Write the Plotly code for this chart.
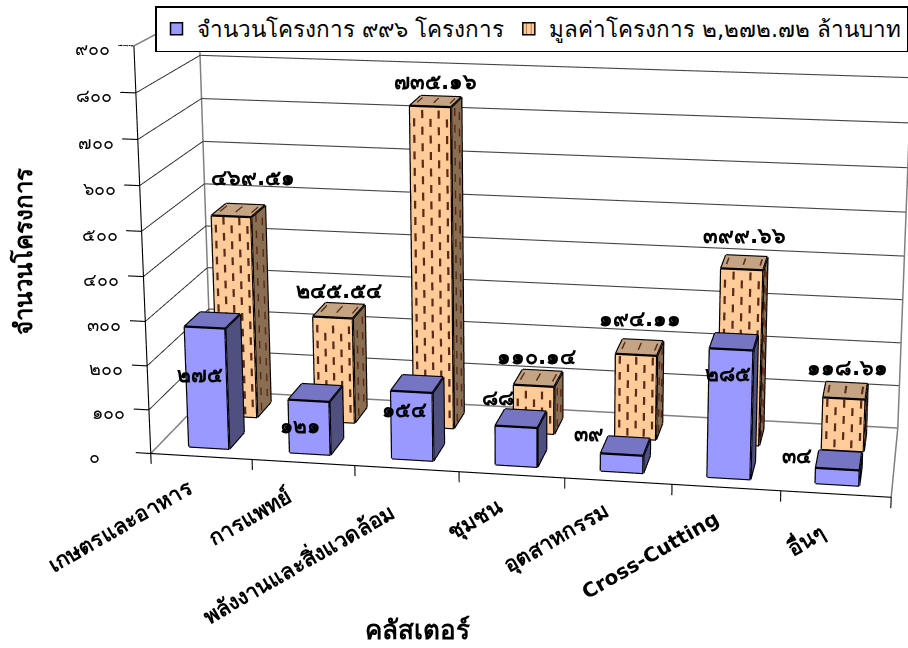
import numpy as np
import plotly.graph_objects as go

# chart content
categories = ["เกษตรและอาหาร", "การแพทย์", "พลังงานและสิ่งแวดล้อม", "ชุมชน", "อุตสาหกรรม", "Cross-Cutting", "อื่นๆ"]
project_counts = [275, 121, 154, 88, 39, 285, 34]
project_budgets = [469.51, 245.54, 735.16, 110.14, 194.11, 399.66, 118.61]
series_names = ["จำนวนโครงการ ๙๙๖ โครงการ", "มูลค่าโครงการ ๒,๒๗๒.๗๒ ล้านบาท"]
z_ticks = [0, 100, 200, 300, 400, 500, 600, 700, 800, 900]
axis_titles = ["จำนวนโครงการ", "คลัสเตอร์"]

THAI = str.maketrans("0123456789", "๐๑๒๓๔๕๖๗๘๙")
def thai(v):
    return str(v).translate(THAI)

# scene layout: categories run along x, the two series sit in rows along y
Z_LO, Z_HI = -30.0, 900.0
BLUE_Y = (0.13, 0.38)
ORANGE_Y = (0.62, 0.87)
BAR_X = (0.3, 0.7)

# camera and the slant of the floor plan
EYE = (0.0063, -0.7704, 0.5851)
CENTER = (-0.0825, -0.0127, -0.1204)
UP = (-0.0046, 0.0359, 1.0)
ASPECT = (1.0, 0.4641, 0.3984)
SLANT = (0.3053, 0.0514, 2.7276, -0.3104)

def place(x, y, z):
    # slant the layout so the columns recede towards the right
    return (x + SLANT[0] * y + SLANT[3] * z / 900,
            y + SLANT[1] * x + SLANT[2] * z / 900,
            z)

box = [place(a, b, c) for a in (-0.2, 7.05) for b in (-0.02, 1.02) for c in (Z_LO, Z_HI)]
XL, XH = min(q[0] for q in box), max(q[0] for q in box)
YL, YH = min(q[1] for q in box), max(q[1] for q in box)

BLUE = ("#9999FF", "#7575C4", "#505080")
ORANGE = ("#FFCC99", "#C4A483", "#8A6E52")
HATCH = "#5A2A1A"

def cuboids(values, y0, y1, colors):
    xs, ys, zs, I, J, K, fc = [], [], [], [], [], [], []
    ex, ey, ez = [], [], []
    for n, v in enumerate(values):
        x0, x1 = n + BAR_X[0], n + BAR_X[1]
        corners = [(x0,y0,0),(x1,y0,0),(x1,y1,0),(x0,y1,0),(x0,y0,v),(x1,y0,v),(x1,y1,v),(x0,y1,v)]
        corners = [place(*c) for c in corners]
        base = len(xs)
        for c in corners:
            xs.append(c[0]); ys.append(c[1]); zs.append(c[2])
        faces = [((0,1,5,4),0),((1,2,6,5),2),((4,5,6,7),1),((3,2,6,7),2),((0,3,7,4),2),((0,1,2,3),2)]
        for q, col in faces:
            I += [base+q[0], base+q[0]]; J += [base+q[1], base+q[2]]; K += [base+q[2], base+q[3]]
            fc += [colors[col]] * 2
        for a, e in [(0,1),(1,2),(4,5),(5,6),(6,7),(7,4),(0,4),(1,5),(2,6),(3,7)]:
            for arr, idx in ((ex,0),(ey,1),(ez,2)):
                arr += [corners[a][idx], corners[e][idx], None]
    mesh = go.Mesh3d(x=xs, y=ys, z=zs, i=I, j=J, k=K, facecolor=fc, flatshading=True,
                     lighting=dict(ambient=1, diffuse=0, specular=0, fresnel=0, roughness=1),
                     hoverinfo="skip", showlegend=False, showscale=False)
    lines = go.Scatter3d(x=ex, y=ey, z=ez, mode="lines", line=dict(color="black", width=4.5),
                         hoverinfo="skip", showlegend=False)
    return [mesh, lines]

def hatch(values, y0, y1):
    # short vertical dashes on the front, side and top of each column
    hx, hy, hz = [], [], []
    def dash(a, c):
        pa, pc = place(*a), place(*c)
        hx.extend([pa[0], pc[0], None]); hy.extend([pa[1], pc[1], None]); hz.extend([pa[2], pc[2], None])
    for n, v in enumerate(values):
        x0, x1 = n + BAR_X[0], n + BAR_X[1]
        for col in range(5):
            x = x0 + 0.04 + col * 0.08
            z = (0 if col % 2 else 18) + 6
            while z + 18 < v:
                dash((x, y0 - 0.003, z), (x, y0 - 0.003, z + 18))
                z += 37
            if col % 2 == 0:
                dash((x, y0 + 0.08, v + 0.3), (x, y0 + 0.2, v + 0.3))
        for col in range(2):
            y = y0 + 0.07 + col * 0.11
            z = 6 + 18 * col
            while z + 18 < v:
                dash((x1 + 0.003, y, z), (x1 + 0.003, y, z + 18))
                z += 37
    return go.Scatter3d(x=hx, y=hy, z=hz, mode="lines", line=dict(color=HATCH, width=4.5),
                        hoverinfo="skip", showlegend=False)

def polyline(points, color, width):
    xs, ys, zs = [], [], []
    for seg in points:
        for c in seg:
            q = place(*c)
            xs.append(q[0]); ys.append(q[1]); zs.append(q[2])
        xs.append(None); ys.append(None); zs.append(None)
    return go.Scatter3d(x=xs, y=ys, z=zs, mode="lines", line=dict(color=color, width=width),
                        hoverinfo="skip", showlegend=False)

fig = go.Figure()
# walls, floor and axes
zmax = z_ticks[-1]
fig.add_trace(polyline([[(0, 1, v), (7, 1, v)] for v in z_ticks[1:]], "#444444", 2.2))
fig.add_trace(polyline([[(0, 0, v), (0, 1, v)] for v in z_ticks[1:-1]], "#202020", 1.8))
fig.add_trace(polyline([[(0, 0, zmax), (0, 1, zmax)], [(0, 1, 0), (0, 1, zmax)], [(7, 1, 0), (7, 1, zmax)],
                        [(0, 0, 0), (0, 1, 0)], [(7, 0, 0), (7, 1, 0)], [(0, 1, 0), (7, 1, 0)]], "#808080", 3))
fig.add_trace(polyline([[(0, 0, 0), (0, 0, zmax)], [(0, 0, 0), (7, 0, 0)]]
                       + [[(0, 0, v), (-0.15, 0, v)] for v in z_ticks]
                       + [[(n, 0, 0), (n, 0, -24)] for n in range(8)], "black", 2.2))
# columns
for t in cuboids(project_budgets, ORANGE_Y[0], ORANGE_Y[1], ORANGE):
    fig.add_trace(t)
fig.add_trace(hatch(project_budgets, ORANGE_Y[0], ORANGE_Y[1]))
for t in cuboids(project_counts, BLUE_Y[0], BLUE_Y[1], BLUE):
    fig.add_trace(t)

# legend entries
fig.add_trace(go.Bar(x=[None], y=[None], name=series_names[0],
                     marker=dict(color=BLUE[0], line=dict(color="black", width=1.5))))
fig.add_trace(go.Bar(x=[None], y=[None], name=series_names[1],
                     marker=dict(color=ORANGE[0], line=dict(color="black", width=1.5),
                                 pattern=dict(shape="|", fgcolor=HATCH, size=6, solidity=0.2))))

FONT = "DejaVu Sans, Noto Sans, sans-serif"
def note(pos, **kw):
    q = place(*pos)
    return dict(x=q[0], y=q[1], z=q[2], showarrow=False, **kw)

ann = []
for v, dx in zip(z_ticks, [-49] + [-22] * 9):
    ann.append(note((0, 0, v), text=thai(v), xanchor="right", xshift=dx, yshift=-3,
                    font=dict(family=FONT, size=18, color="black")))
label_off = [(-81, 69), (-53, 54), (-109, 94), (-36, 45), (-62, 57), (-76, 67), (-30, 45)]
for n, (c, (dx, dy)) in enumerate(zip(categories, label_off)):
    ann.append(note((n + 0.5, 0, 0), text=f"<b>{c}</b>", textangle=-30, xshift=dx, yshift=-dy,
                    font=dict(family=FONT, size=20 if c.isascii() else 21.5, color="black")))
budget_off = [(14, 33), (0, 20), (0, 20), (-2, 22), (0, 29), (0, 27), (2, 23)]
for n, (v, (dx, lift)) in enumerate(zip(project_budgets, budget_off)):
    ann.append(note((n + 0.5, sum(ORANGE_Y) / 2, v), text=f"<b>{thai(f'{v:.2f}')}</b>", xshift=dx, yshift=lift,
                    font=dict(family=FONT, size=21.5, color="black")))
count_off = [(-5, -47), (-9, -25), (-7, -18), (-19, 29), (-34, 21), (-4, -25), (-41, 13)]
for n, (v, (dx, dy)) in enumerate(zip(project_counts, count_off)):
    ann.append(note((n + 0.5, BLUE_Y[0], v), text=f"<b>{thai(v)}</b>", xshift=dx, yshift=dy,
                    font=dict(family=FONT, size=21, color="black")))

axis_off = dict(showgrid=False, showline=False, zeroline=False, showticklabels=False, ticks="",
                showbackground=False, showspikes=False, title="")
fig.update_layout(
    width=908, height=648, margin=dict(l=0, r=0, t=0, b=0), paper_bgcolor="white", plot_bgcolor="white",
    showlegend=True, hovermode=False, dragmode=False, barmode="overlay",
    xaxis=dict(visible=False), yaxis=dict(visible=False),
    legend=dict(orientation="h", x=155 / 908, y=1 - 6 / 648, xanchor="left", yanchor="top", bgcolor="white",
                bordercolor="black", borderwidth=1.5, font=dict(family=FONT, size=22.5, color="black")),
    scene=dict(
        domain=dict(x=[0, 1], y=[0, 1]),
        aspectmode="manual", aspectratio=dict(x=ASPECT[0], y=ASPECT[1], z=ASPECT[2]),
        camera=dict(eye=dict(x=EYE[0], y=EYE[1], z=EYE[2]), center=dict(x=CENTER[0], y=CENTER[1], z=CENTER[2]),
                    up=dict(x=UP[0], y=UP[1], z=UP[2]), projection=dict(type="perspective")),
        xaxis=dict(axis_off, range=[XL, XH]),
        yaxis=dict(axis_off, range=[YL, YH]),
        zaxis=dict(axis_off, range=[Z_LO, Z_HI]),
        annotations=ann,
    ),
    annotations=[
        dict(x=24 / 908, y=1 - 252 / 648, xref="paper", yref="paper", xanchor="center", yanchor="middle",
             text=f"<b>{axis_titles[0]}</b>", textangle=-90, showarrow=False,
             font=dict(family=FONT, size=24, color="black")),
        dict(x=417 / 908, y=1 - 630 / 648, xref="paper", yref="paper", xanchor="center", yanchor="middle",
             text=f"<b>{axis_titles[1]}</b>", showarrow=False,
             font=dict(family=FONT, size=26, color="black")),
    ],
)
fig.write_html("out.html", config=dict(displayModeBar=False))
